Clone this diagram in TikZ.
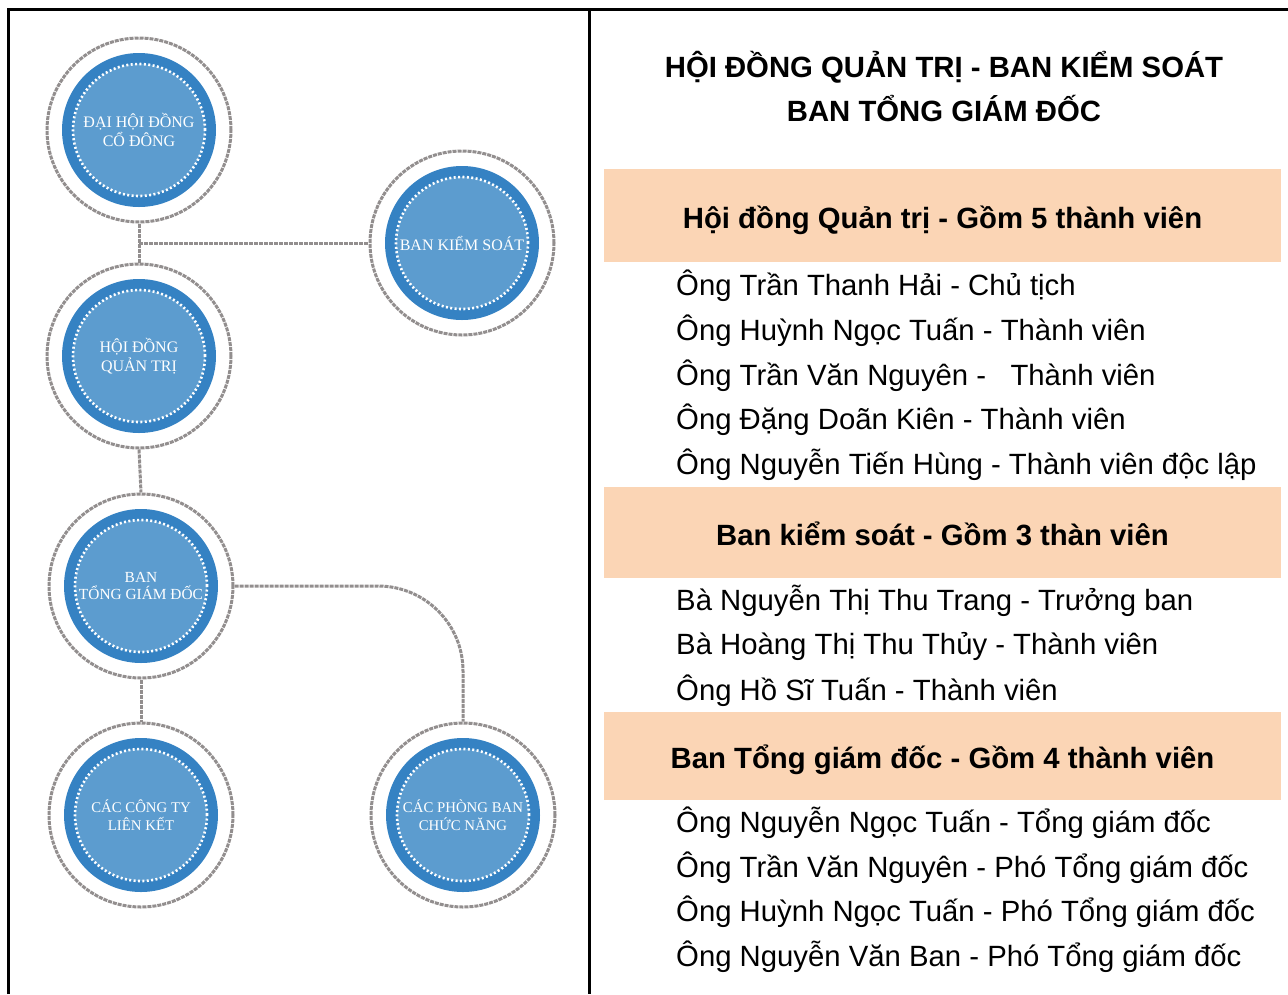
\documentclass[tikz,border=0pt]{standalone}
\usepackage{fontspec}
\setmainfont{Liberation Sans}
\newfontfamily\circfont{Liberation Serif}
\usetikzlibrary{calc}
\definecolor{ringgray}{HTML}{928E8E}
\definecolor{bandblue}{HTML}{3582C3}
\definecolor{innerblue}{HTML}{5C9CCF}
\definecolor{peach}{HTML}{FBD5B5}
\begin{document}
\begin{tikzpicture}[x=1pt,y=-1pt,
  ring/.style={circle, minimum size=184pt, inner sep=0pt, draw=ringgray, line width=3pt, dash pattern=on 4pt off 1pt},
  disc/.style={circle, minimum size=154pt, inner sep=0pt, fill=bandblue, text=white,
    font=\circfont\fontsize{16}{18.5}\selectfont, align=center,
    path picture={\fill[innerblue] (path picture bounding box.center) circle (66pt);
      \draw[white, line width=2.6pt, dash pattern=on 2pt off 2.4pt] (path picture bounding box.center) circle (66pt);}},
  small/.style={font=\circfont\fontsize{14.8}{17.5}\selectfont},
  mid/.style={font=\circfont\fontsize{15.4}{17.5}\selectfont},
  link/.style={draw=ringgray, line width=3pt, dash pattern=on 4pt off 1pt},
  band/.style={fill=peach, minimum width=677pt, inner sep=0pt, text height=27.5pt, text depth=2pt,
    font=\bfseries\fontsize{29.3}{34}\selectfont},
  item/.style={anchor=west, inner sep=0pt, font=\fontsize{29.3}{34}\selectfont},
  frame/.style={line width=3pt}
]
\useasboundingbox (0,0) rectangle (1288,994);
\draw[frame] (8,994) -- (8,9) -- (1288,9);
\draw[frame] (589,9) -- (589,994);

% circles
\node[ring] (dh) at (139,130) {};
\node[disc] (dhin) at (139,130) {ĐẠI HỘI ĐỒNG\\CỔ ĐÔNG};
\node[ring] (bk) at (462,243) {};
\node[disc] (bkin) at (462,243) {BAN KIỂM SOÁT};
\node[ring] (hd) at (139,356) {};
\node[disc] (hdin) at (139,356) {HỘI ĐỒNG\\QUẢN TRỊ};
\node[ring] (tg) at (141,586) {};
\node[disc, mid] (tgin) at (141,586) {BAN\\TỔNG GIÁM ĐỐC};
\node[ring] (ct) at (141,815) {};
\node[disc, small] (ctin) at (141,815) {CÁC CÔNG TY\\LIÊN KẾT};
\node[ring] (pb) at (463,815) {};
\node[disc, small] (pbin) at (463,815) {CÁC PHÒNG BAN\\CHỨC NĂNG};

% connectors
\coordinate (j1) at ($(dh.south)!0.5!(hd.north)$);
\draw[link] (dh.south) -- (hd.north);
\draw[link] (j1) -- (j1 -| bk.west);
\draw[link] (hd.south) -- (tg.north);
\draw[link] (tg.south) -- (ct.north);
\draw[link, rounded corners=85pt] (tg.east) -| (pb.north);

% right panel
\node[align=center, font=\bfseries\fontsize{29.3}{44}\selectfont] (title) at (944,87)
  {HỘI ĐỒNG QUẢN TRỊ - BAN KIỂM SOÁT\\BAN TỔNG GIÁM ĐỐC};

\node[band, minimum height=93pt] (b1) at (942.5,215.5) {Hội đồng Quản trị - Gồm 5 thành viên};
\node[item] (h1) at (676,286) {Ông Trần Thanh Hải - Chủ tịch};
\node[item] (h2) at (676,331) {Ông Huỳnh Ngọc Tuấn - Thành viên};
\node[item] (h3) at (676,376) {Ông Trần Văn Nguyên -\ \ \ Thành viên};
\node[item] (h4) at (676,420) {Ông Đặng Doãn Kiên - Thành viên};
\node[item] (h5) at (676,465) {Ông Nguyễn Tiến Hùng - Thành viên độc lập};

\node[band, minimum height=91pt] (b2) at (942.5,532.5) {Ban kiểm soát - Gồm 3 thàn viên};
\node[item] (k1) at (676,601) {Bà Nguyễn Thị Thu Trang - Trưởng ban};
\node[item] (k2) at (676,646) {Bà Hoàng Thị Thu Thủy - Thành viên};
\node[item] (k3) at (676,691) {Ông Hồ Sĩ Tuấn - Thành viên};

\node[band, minimum height=88pt] (b3) at (942.5,756) {Ban Tổng giám đốc - Gồm 4 thành viên};
\node[item] (t1) at (676,823) {Ông Nguyễn Ngọc Tuấn - Tổng giám đốc};
\node[item] (t2) at (676,868) {Ông Trần Văn Nguyên - Phó Tổng giám đốc};
\node[item] (t3) at (676,912) {Ông Huỳnh Ngọc Tuấn - Phó Tổng giám đốc};
\node[item] (t4) at (676,957) {Ông Nguyễn Văn Ban - Phó Tổng giám đốc};
\end{tikzpicture}
\end{document}
